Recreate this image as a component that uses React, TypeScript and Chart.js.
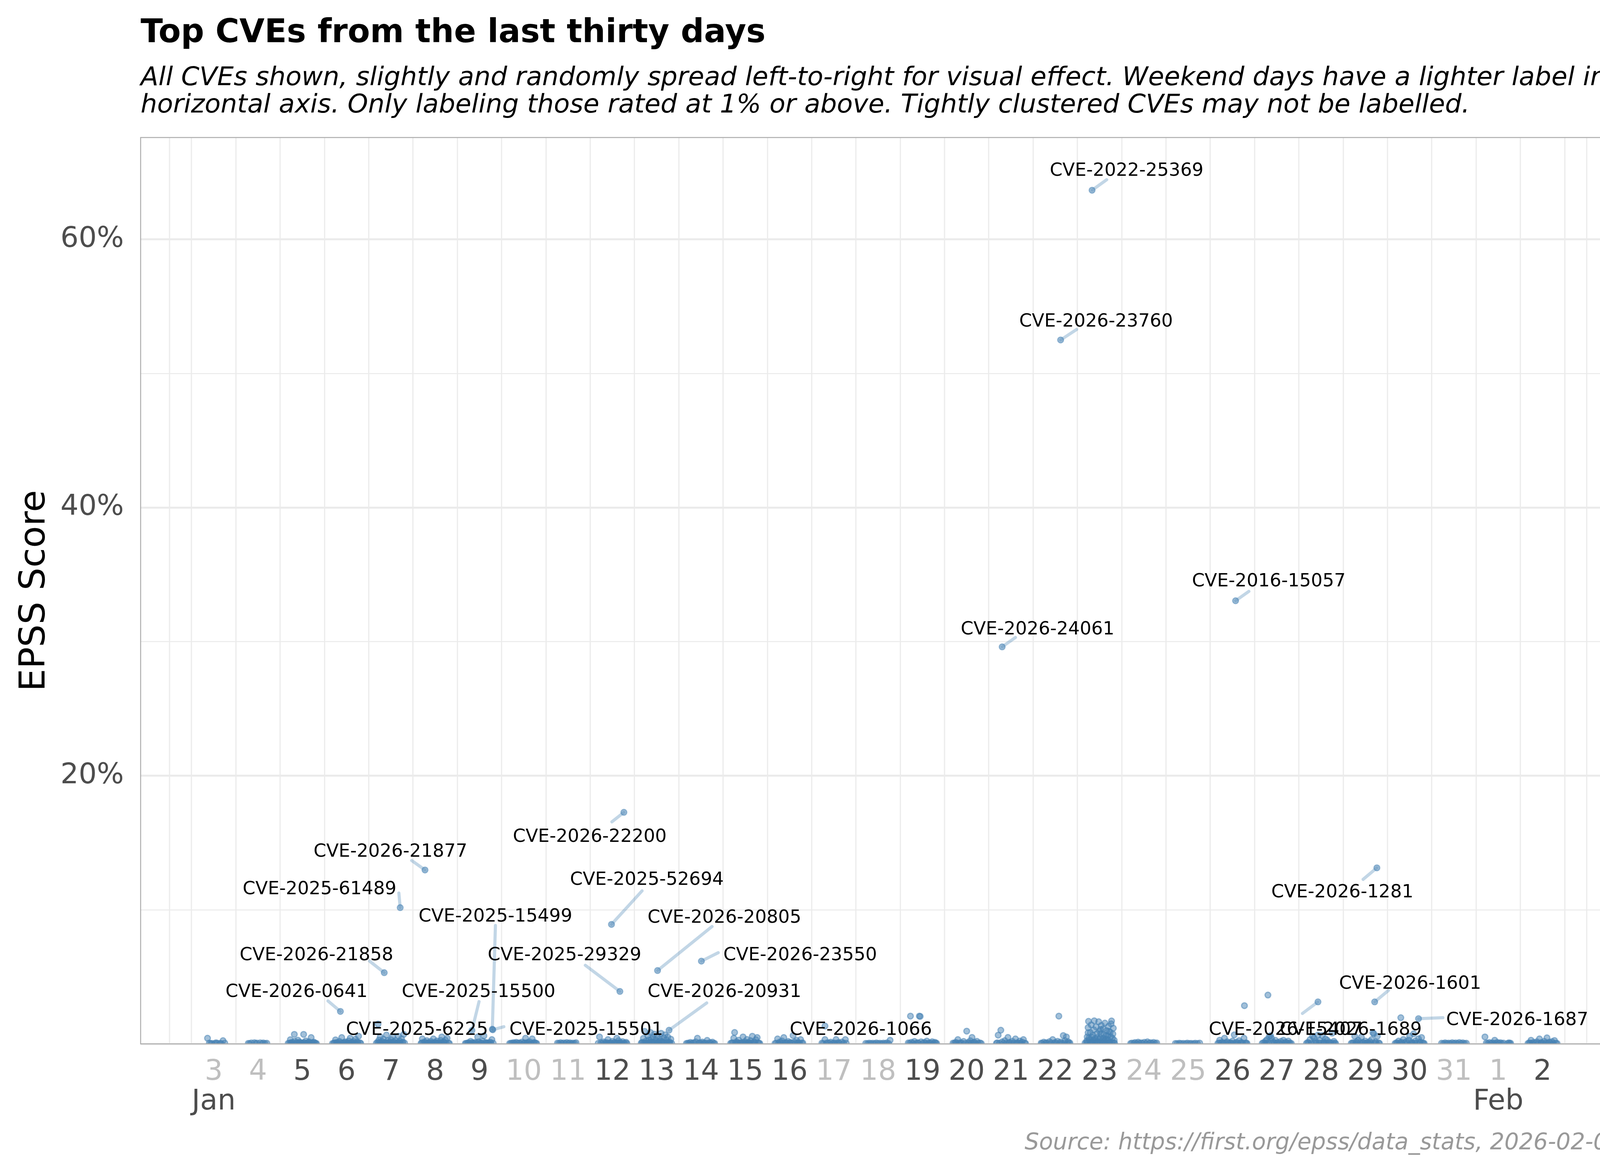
import { useEffect, useRef } from 'react';
import { Chart, registerables } from 'chart.js';

Chart.register(...registerables);

// ---- axis categories ----
const dayLabels = ['3','4','5','6','7','8','9','10','11','12','13','14','15','16','17','18','19','20','21','22','23','24','25','26','27','28','29','30','31','1','2'];
const weekendDays = [true,true,false,false,false,false,false,true,true,false,false,false,false,false,true,true,false,false,false,false,false,true,true,false,false,false,false,false,true,true,false];
const monthNames = ['Jan', 'Feb'];
const monthTickIndex = [0, 29];
const yTickValues = [0, 0.1, 0.2, 0.3, 0.4, 0.5, 0.6];
const yTickLabels = ['', '', '20%', '', '40%', '', '60%'];

// ---- per-day CVEs: [jitter offset in days, EPSS score] ----
const jan03 = [[-0.14,0.0042],[-0.1,0.0006],[-0.04,0.0004],[0.02,0.0003],[0.08,0.0005],[0.14,0.0004],[0.21,0.0024],[0.25,0.0006],[-0.07,0.0002],[0.05,0.0008],[0.17,0.0003]];
const jan04 = [[-0.22,0.0004],[-0.15,0.0007],[-0.08,0.0009],[-0.02,0.0006],[0.05,0.0008],[0.12,0.0007],[0.2,0.0005],[-0.19,0.0002],[-0.05,0.0003],[0.09,0.0002],[0.16,0.0003]];
const jan05 = [[-0.29,0.0006],[-0.27,0.0031],[-0.23,0.0012],[-0.18,0.0071],[-0.17,0.0019],[-0.12,0.0009],[-0.1,0.0028],[-0.06,0.0014],[-0.02,0.0004],[0.03,0.0071],[0.04,0.0011],[0.08,0.0022],[0.12,0.0007],[0.15,0.0016],[0.2,0.0047],[0.22,0.0009],[0.26,0.0013],[0.3,0.0004],[-0.24,0.0002],[0.0,0.0002],[0.18,0.0003],[-0.32,0.0004],[-0.26,0.0007],[-0.2,0.0005],[-0.14,0.0004],[-0.08,0.0006],[-0.04,0.0008],[0.01,0.0006],[0.06,0.0005],[0.1,0.0003],[0.14,0.0008],[0.24,0.0005],[0.28,0.0008],[0.32,0.0003]];
const jan06 = [[-0.29,0.0005],[-0.25,0.003],[-0.21,0.0012],[-0.16,0.0018],[-0.11,0.0047],[-0.07,0.0009],[-0.03,0.0015],[0.01,0.0004],[0.05,0.0022],[0.08,0.0042],[0.12,0.0011],[0.16,0.0019],[0.2,0.0035],[0.24,0.0014],[0.27,0.0057],[0.3,0.0008],[-0.19,0.0003],[0.14,0.0003],[-0.32,0.0003],[-0.27,0.0008],[-0.23,0.0005],[-0.13,0.0006],[-0.09,0.0004],[-0.05,0.0007],[-0.01,0.0009],[0.03,0.0005],[0.07,0.0007],[0.1,0.0004],[0.18,0.0006],[0.22,0.0004],[0.26,0.0007],[0.32,0.0004]];
const jan07 = [[-0.3,0.0012],[-0.27,0.0028],[-0.24,0.0052],[-0.2,0.0018],[-0.17,0.0035],[-0.13,0.0009],[-0.1,0.0066],[-0.07,0.0024],[-0.03,0.0013],[0.0,0.0031],[0.04,0.0052],[0.07,0.0016],[0.1,0.0026],[0.14,0.0008],[0.17,0.0057],[0.2,0.0021],[0.24,0.0038],[0.27,0.0014],[0.29,0.0071],[-0.22,0.0004],[0.12,0.0003],[-0.05,0.0004],[-0.33,0.0005],[-0.28,0.0007],[-0.25,0.0009],[-0.18,0.0006],[-0.15,0.0011],[-0.11,0.0005],[-0.08,0.0009],[-0.01,0.0006],[0.02,0.0009],[0.05,0.0005],[0.09,0.0008],[0.16,0.0006],[0.19,0.0009],[0.22,0.0005],[0.26,0.0008],[0.31,0.0006]];
const jan08 = [[-0.3,0.0008],[-0.29,0.0037],[-0.24,0.0015],[-0.19,0.0024],[-0.15,0.0007],[-0.1,0.0019],[-0.04,0.0037],[-0.01,0.0011],[0.04,0.0022],[0.08,0.0009],[0.12,0.0026],[0.15,0.0052],[0.19,0.0014],[0.23,0.0028],[0.27,0.0042],[0.3,0.0006],[-0.06,0.0003],[0.1,0.0003],[-0.32,0.0004],[-0.27,0.0006],[-0.22,0.0005],[-0.17,0.0009],[-0.12,0.0005],[-0.08,0.0007],[-0.03,0.0005],[0.02,0.0008],[0.06,0.0005],[0.14,0.0007],[0.17,0.0004],[0.21,0.0008],[0.25,0.0005],[0.32,0.0004]];
const jan09 = [[-0.3,0.0004],[-0.25,0.0009],[-0.2,0.0019],[-0.15,0.0006],[-0.1,0.0012],[-0.04,0.0052],[-0.02,0.0015],[0.03,0.0008],[0.07,0.0021],[0.1,0.006],[0.14,0.0011],[0.19,0.0007],[0.24,0.0013],[0.28,0.0032],[0.31,0.0005],[-0.32,0.0003],[-0.27,0.0005],[-0.22,0.0004],[-0.17,0.0008],[-0.12,0.0004],[-0.07,0.0006],[0.0,0.0004],[0.05,0.0005],[0.12,0.0004],[0.16,0.0006],[0.21,0.0004],[0.26,0.0006]];
const jan10 = [[-0.29,0.0005],[-0.23,0.0009],[-0.17,0.0012],[-0.1,0.0007],[-0.04,0.0014],[0.0,0.0006],[0.04,0.0042],[0.08,0.001],[0.13,0.0016],[0.19,0.0037],[0.24,0.0011],[0.29,0.0004],[-0.32,0.0003],[-0.26,0.0005],[-0.2,0.0004],[-0.14,0.0006],[-0.07,0.0004],[0.02,0.0007],[0.06,0.0004],[0.1,0.0005],[0.16,0.0004],[0.22,0.0006],[0.27,0.0005]];
const jan11 = [[-0.24,0.0006],[-0.17,0.0009],[-0.1,0.0007],[-0.03,0.001],[0.04,0.0008],[0.11,0.0006],[0.18,0.0009],[-0.21,0.0003],[-0.14,0.0004],[-0.06,0.0003],[0.01,0.0004],[0.08,0.0003],[0.15,0.0004]];
const jan12 = [[-0.29,0.0052],[-0.26,0.0008],[-0.2,0.0015],[-0.14,0.0011],[-0.1,0.0032],[-0.05,0.0007],[0.0,0.0019],[0.05,0.0012],[0.1,0.0042],[0.14,0.0024],[0.18,0.0009],[0.23,0.0017],[0.28,0.0006],[0.31,0.0012],[-0.32,0.0004],[-0.23,0.0005],[-0.17,0.0006],[-0.12,0.0004],[-0.08,0.0005],[-0.02,0.0006],[0.03,0.0004],[0.08,0.0005],[0.12,0.0007],[0.16,0.0004],[0.21,0.0006],[0.26,0.0004],[0.33,0.0003]];
const jan13 = [[-0.33,0.0012],[-0.3,0.0041],[-0.27,0.0093],[-0.24,0.0022],[-0.2,0.0061],[-0.17,0.0031],[-0.14,0.0085],[-0.11,0.0015],[-0.08,0.0048],[-0.05,0.0072],[-0.02,0.0026],[0.01,0.0055],[0.04,0.0009],[0.07,0.0038],[0.1,0.0079],[0.13,0.0019],[0.16,0.0045],[0.19,0.0067],[0.22,0.0028],[0.25,0.0052],[0.29,0.0014],[0.32,0.0035],[-0.22,0.0004],[0.0,0.0003],[0.2,0.0005],[-0.12,0.0033],[0.08,0.0024],[-0.35,0.0005],[-0.31,0.0008],[-0.28,0.0006],[-0.25,0.0009],[-0.18,0.0007],[-0.15,0.0011],[-0.09,0.0008],[-0.06,0.0012],[-0.03,0.0006],[0.02,0.0009],[0.05,0.0014],[0.11,0.0007],[0.14,0.0011],[0.17,0.0008],[0.23,0.0009],[0.27,0.0006],[0.3,0.0008],[0.34,0.0004]];
const jan14 = [[-0.3,0.0005],[-0.24,0.0011],[-0.18,0.0008],[-0.12,0.0015],[-0.08,0.0042],[-0.03,0.0009],[0.03,0.0014],[0.08,0.0007],[0.14,0.0026],[0.2,0.001],[0.26,0.0013],[0.31,0.0004],[-0.33,0.0003],[-0.27,0.0004],[-0.21,0.0003],[-0.15,0.0005],[-0.05,0.0004],[0.0,0.0005],[0.05,0.0003],[0.11,0.0005],[0.17,0.0004],[0.23,0.0005],[0.29,0.0003]];
const jan15 = [[-0.3,0.0009],[-0.26,0.0042],[-0.24,0.0085],[-0.2,0.0016],[-0.15,0.0028],[-0.1,0.0008],[-0.05,0.0052],[-0.01,0.0017],[0.04,0.0033],[0.08,0.0011],[0.12,0.0024],[0.16,0.0057],[0.2,0.0013],[0.24,0.0031],[0.27,0.0047],[0.31,0.0006],[0.0,0.0003],[-0.18,0.0003],[-0.33,0.0004],[-0.28,0.0006],[-0.22,0.0005],[-0.17,0.0008],[-0.12,0.0005],[-0.07,0.0007],[-0.03,0.0005],[0.02,0.0008],[0.06,0.0004],[0.1,0.0006],[0.14,0.0005],[0.18,0.0008],[0.22,0.0005],[0.29,0.0007],[0.33,0.0003]];
const jan16 = [[-0.3,0.0006],[-0.27,0.0037],[-0.22,0.0014],[-0.17,0.0022],[-0.13,0.0047],[-0.08,0.0009],[-0.03,0.0018],[0.02,0.0011],[0.08,0.0062],[0.11,0.0015],[0.16,0.0026],[0.2,0.0009],[0.25,0.0032],[0.3,0.0007],[-0.33,0.0003],[-0.25,0.0005],[-0.2,0.0004],[-0.15,0.0006],[-0.1,0.0004],[-0.05,0.0007],[0.0,0.0005],[0.05,0.0006],[0.13,0.0004],[0.18,0.0006],[0.23,0.0004],[0.28,0.0005]];
const jan17 = [[-0.27,0.0006],[-0.2,0.0032],[-0.14,0.0009],[-0.07,0.0013],[0.0,0.0007],[0.05,0.0032],[0.11,0.001],[0.18,0.0014],[0.26,0.0032],[0.28,0.0005],[-0.24,0.0003],[-0.17,0.0004],[-0.1,0.0005],[-0.04,0.0003],[0.03,0.0004],[0.08,0.0005],[0.14,0.0003],[0.22,0.0005]];
const jan18 = [[-0.28,0.0004],[-0.2,0.0006],[-0.12,0.0005],[-0.04,0.0007],[0.04,0.0005],[0.12,0.0006],[0.2,0.0008],[0.27,0.0027],[-0.24,0.0002],[-0.16,0.0003],[-0.08,0.0002],[0.0,0.0003],[0.08,0.0002],[0.16,0.0003],[0.24,0.0002]];
const jan19 = [[-0.32,0.0007],[-0.27,0.0207],[-0.25,0.0012],[-0.18,0.0018],[-0.11,0.0009],[-0.07,0.0207],[-0.05,0.0205],[-0.03,0.0015],[0.04,0.0011],[0.1,0.0021],[0.16,0.0008],[0.22,0.0016],[0.28,0.0012],[0.32,0.0005],[-0.29,0.0004],[-0.22,0.0005],[-0.15,0.0004],[-0.09,0.0006],[0.0,0.0004],[0.07,0.0005],[0.13,0.0004],[0.19,0.0006],[0.25,0.0004],[0.3,0.0005]];
const jan20 = [[-0.31,0.0006],[-0.25,0.0012],[-0.2,0.0032],[-0.14,0.0009],[-0.07,0.0018],[0.0,0.0095],[0.03,0.0011],[0.08,0.0023],[0.12,0.0048],[0.17,0.0013],[0.23,0.0019],[0.3,0.0007],[-0.28,0.0004],[-0.23,0.0005],[-0.17,0.0004],[-0.11,0.0006],[-0.04,0.0004],[0.05,0.0005],[0.1,0.0004],[0.15,0.0006],[0.2,0.0004],[0.26,0.0005],[0.33,0.0003]];
const jan21 = [[-0.31,0.0008],[-0.29,0.0065],[-0.23,0.0102],[-0.2,0.0015],[-0.14,0.0024],[-0.07,0.0048],[-0.03,0.0012],[0.03,0.0019],[0.1,0.0037],[0.14,0.0009],[0.2,0.0021],[0.25,0.0014],[0.28,0.0032],[0.31,0.0006],[-0.33,0.0004],[-0.26,0.0005],[-0.17,0.0006],[-0.11,0.0004],[-0.05,0.0006],[0.0,0.0004],[0.06,0.0006],[0.12,0.0004],[0.17,0.0005],[0.22,0.0004],[0.33,0.0003]];
const jan22 = [[-0.32,0.0006],[-0.26,0.0013],[-0.2,0.0009],[-0.13,0.0017],[-0.06,0.0032],[0.0,0.0011],[0.05,0.0019],[0.08,0.0207],[0.12,0.0014],[0.18,0.0062],[0.22,0.0024],[0.25,0.0052],[0.29,0.0016],[0.33,0.0007],[-0.3,0.0004],[-0.23,0.0005],[-0.17,0.0004],[-0.1,0.0006],[-0.03,0.0005],[0.03,0.0004],[0.1,0.0005],[0.15,0.0004],[0.2,0.0006],[0.27,0.0004],[0.31,0.0005]];
const jan23 = [[-0.3,0.0009],[-0.28,0.0052],[-0.26,0.0121],[-0.25,0.0168],[-0.23,0.0031],[-0.21,0.0085],[-0.19,0.0142],[-0.17,0.0018],[-0.15,0.0064],[-0.13,0.0105],[-0.12,0.0172],[-0.1,0.0039],[-0.08,0.0127],[-0.06,0.0076],[-0.04,0.0015],[-0.02,0.0165],[0.0,0.0094],[0.02,0.0046],[0.04,0.0138],[0.06,0.0024],[0.08,0.0112],[0.1,0.0068],[0.12,0.0155],[0.14,0.0035],[0.16,0.0099],[0.18,0.0058],[0.2,0.0131],[0.22,0.0012],[0.24,0.0088],[0.26,0.0149],[0.27,0.0171],[0.29,0.0043],[0.31,0.0117],[0.33,0.0027],[-0.22,0.0005],[0.05,0.0004],[0.2,0.0006],[-0.09,0.0026],[0.11,0.0019],[-0.33,0.0006],[-0.29,0.0022],[-0.27,0.0007],[-0.24,0.0044],[-0.2,0.0009],[-0.18,0.0051],[-0.16,0.0008],[-0.14,0.0029],[-0.11,0.0009],[-0.07,0.0011],[-0.05,0.0047],[-0.03,0.0008],[-0.01,0.0034],[0.01,0.0009],[0.03,0.0075],[0.07,0.0007],[0.09,0.0041],[0.13,0.0008],[0.15,0.0062],[0.17,0.0009],[0.19,0.0031],[0.23,0.0008],[0.25,0.0053],[0.28,0.0009],[0.3,0.0074],[0.32,0.0007],[0.34,0.0005],[-0.26,0.0083],[0.02,0.0108],[0.21,0.0093]];
const jan24 = [[-0.27,0.0006],[-0.2,0.001],[-0.13,0.0013],[-0.06,0.0008],[0.01,0.0012],[0.08,0.0015],[0.15,0.0009],[0.22,0.0011],[0.29,0.0007],[-0.3,0.0003],[-0.23,0.0004],[-0.16,0.0003],[-0.1,0.0005],[-0.03,0.0004],[0.05,0.0003],[0.12,0.0005],[0.19,0.0004],[0.26,0.0003]];
const jan25 = [[-0.29,0.0003],[-0.2,0.0005],[-0.11,0.0004],[-0.02,0.0006],[0.07,0.0004],[0.16,0.0005],[0.26,0.0006],[-0.25,0.0002],[-0.16,0.0003],[-0.06,0.0002],[0.03,0.0003],[0.12,0.0002],[0.21,0.0003]];
const jan26 = [[-0.3,0.0007],[-0.29,0.0027],[-0.23,0.0012],[-0.18,0.0042],[-0.12,0.0016],[-0.06,0.0009],[0.0,0.0021],[0.04,0.0067],[0.09,0.0013],[0.15,0.0024],[0.2,0.0011],[0.26,0.0042],[0.27,0.0285],[0.31,0.0008],[-0.33,0.0004],[-0.26,0.0005],[-0.2,0.0004],[-0.15,0.0007],[-0.09,0.0005],[-0.03,0.0006],[0.02,0.0004],[0.07,0.0006],[0.12,0.0004],[0.18,0.0005],[0.23,0.0006],[0.29,0.0004],[0.33,0.0003]];
const jan27 = [[-0.3,0.0009],[-0.25,0.0022],[-0.22,0.0032],[-0.2,0.0364],[-0.17,0.0055],[-0.14,0.0061],[-0.12,0.0042],[-0.08,0.0015],[-0.03,0.0026],[0.03,0.0011],[0.09,0.0019],[0.15,0.0027],[0.2,0.0013],[0.26,0.0021],[0.3,0.0007],[-0.33,0.0004],[-0.27,0.0006],[-0.23,0.0005],[-0.18,0.0008],[-0.1,0.0006],[-0.05,0.0005],[0.0,0.0007],[0.06,0.0004],[0.12,0.0006],[0.18,0.0005],[0.23,0.0007],[0.28,0.0004],[0.33,0.0003]];
const jan28 = [[-0.3,0.0011],[-0.25,0.0031],[-0.19,0.0057],[-0.16,0.0044],[-0.12,0.0018],[-0.07,0.0066],[-0.03,0.0025],[0.03,0.0062],[0.06,0.0014],[0.1,0.0037],[0.14,0.0027],[0.19,0.0012],[0.25,0.008],[0.29,0.0019],[0.31,0.0006],[-0.33,0.0004],[-0.28,0.0006],[-0.22,0.0005],[-0.14,0.0008],[-0.1,0.0005],[-0.05,0.0007],[0.0,0.0005],[0.05,0.0008],[0.08,0.0005],[0.12,0.0006],[0.17,0.0004],[0.22,0.0007],[0.27,0.0005],[0.33,0.0003]];
const jan29 = [[-0.29,0.0009],[-0.24,0.0057],[-0.2,0.0016],[-0.16,0.0027],[-0.09,0.005],[-0.05,0.0012],[0.0,0.0021],[0.05,0.0009],[0.1,0.0018],[0.14,0.0032],[0.17,0.0082],[0.19,0.0076],[0.23,0.0015],[0.27,0.0057],[0.3,0.0008],[-0.32,0.0004],[-0.27,0.0006],[-0.22,0.0004],[-0.18,0.0007],[-0.12,0.0005],[-0.07,0.0006],[-0.02,0.0004],[0.03,0.0007],[0.08,0.0004],[0.12,0.0006],[0.21,0.0005],[0.25,0.0006],[0.32,0.0003]];
const jan30 = [[-0.3,0.0008],[-0.25,0.0021],[-0.19,0.0013],[-0.14,0.0033],[-0.08,0.0017],[-0.02,0.0028],[0.0,0.0057],[0.05,0.0012],[0.09,0.0075],[0.13,0.0022],[0.2,0.0038],[0.24,0.0014],[0.27,0.0047],[0.31,0.0006],[-0.33,0.0003],[-0.28,0.0005],[-0.22,0.0006],[-0.17,0.0004],[-0.11,0.0007],[-0.05,0.0005],[0.03,0.0006],[0.07,0.0004],[0.11,0.0006],[0.16,0.0005],[0.22,0.0006],[0.29,0.0004],[0.33,0.0003]];
const jan31 = [[-0.28,0.0005],[-0.2,0.0008],[-0.12,0.0006],[-0.04,0.0009],[0.04,0.0007],[0.12,0.001],[0.2,0.0008],[0.28,0.0005],[-0.24,0.0003],[-0.16,0.0004],[-0.08,0.0003],[0.0,0.0004],[0.08,0.0003],[0.16,0.0004],[0.24,0.0003]];
const feb01 = [[-0.3,0.0052],[-0.27,0.0007],[-0.2,0.001],[-0.13,0.0008],[-0.08,0.0027],[-0.02,0.0011],[0.05,0.0009],[0.12,0.0006],[0.24,0.0008],[0.28,0.0005],[-0.24,0.0003],[-0.17,0.0004],[-0.1,0.0003],[-0.05,0.0005],[0.02,0.0004],[0.08,0.0003],[0.21,0.0004],[0.26,0.0003]];
const feb02 = [[-0.3,0.0008],[-0.26,0.0027],[-0.2,0.0012],[-0.13,0.0016],[-0.07,0.0037],[-0.02,0.0011],[0.04,0.0019],[0.1,0.0045],[0.15,0.0013],[0.21,0.0017],[0.27,0.0025],[0.3,0.0006],[-0.33,0.0003],[-0.28,0.0005],[-0.23,0.0004],[-0.16,0.0006],[-0.1,0.0005],[-0.04,0.0006],[0.01,0.0004],[0.07,0.0006],[0.12,0.0004],[0.18,0.0005],[0.24,0.0004],[0.33,0.0003]];
const dayClusters = [jan03,jan04,jan05,jan06,jan07,jan08,jan09,jan10,jan11,jan12,jan13,jan14,jan15,jan16,jan17,jan18,jan19,jan20,jan21,jan22,jan23,jan24,jan25,jan26,jan27,jan28,jan29,jan30,jan31,feb01,feb02];

// ---- labelled CVEs ----
const cveIds = ['CVE-2022-25369','CVE-2026-23760','CVE-2016-15057','CVE-2026-24061','CVE-2026-22200','CVE-2026-21877','CVE-2025-61489','CVE-2025-52694','CVE-2025-15499','CVE-2026-20805','CVE-2026-23550','CVE-2025-29329','CVE-2026-21858','CVE-2026-0641','CVE-2025-15500','CVE-2025-6225','CVE-2025-15501','CVE-2026-20931','CVE-2026-1066','CVE-2026-1281','CVE-2026-1601','CVE-2026-1687','CVE-2026-15407','CVE-2026-1689'];
const cveDay = [19.83,19.12,23.07,17.80,9.26,4.77,4.21,8.98,6.29,10.02,11.01,9.17,3.85,2.86,5.83,3.71,6.30,10.28,13.80,26.26,26.21,27.20,24.93,26.80];
const cveScore = [0.6367,0.525,0.3305,0.2961,0.1727,0.1297,0.1016,0.0891,0.0109,0.0547,0.0617,0.0391,0.0531,0.0242,0.0100,0.0148,0.0105,0.0102,0.0133,0.1313,0.0313,0.0188,0.0313,0.0195];
// label placement (data units) and leader-line end (data units, null = no line)
const labelDay = [20.61,19.92,23.82,18.60,8.49,3.99,2.39,9.78,6.36,11.53,13.24,7.92,2.32,1.87,5.98,4.59,8.41,11.53,14.61,25.48,27.01,29.43,24.20,25.67];
const labelScore = [0.6523,0.5398,0.3461,0.3102,0.1555,0.1445,0.1164,0.1234,0.0961,0.0953,0.0672,0.0672,0.0672,0.0398,0.0398,0.0117,0.0117,0.0398,0.0117,0.1141,0.0461,0.0188,0.0117,0.0117];
const leaderDay = [20.16,19.48,23.37,18.10,8.99,4.47,4.18,9.67,6.36,11.25,11.39,8.39,3.52,2.58,5.99,null,6.55,11.13,null,25.95,26.52,27.75,24.58,null];
const leaderScore = [0.6445,0.5328,0.3375,0.3031,0.1656,0.1367,0.1125,0.1141,0.0883,0.0875,0.068,0.0586,0.0617,0.032,0.0315,null,0.0128,0.0305,null,0.1227,0.0398,0.0195,0.0227,null];

const titleText = 'Top CVEs from the last thirty days';
const subtitleLines = [
  'All CVEs shown, slightly and randomly spread left-to-right for visual effect. Weekend days have a lighter label in the',
  'horizontal axis. Only labeling those rated at 1% or above. Tightly clustered CVEs may not be labelled.',
];
const captionText = 'Source: https://first.org/epss/data_stats, 2026-02-02';
const yTitle = 'EPSS Score';

const FONT = '"DejaVu Sans"';
const POINT_FILL = 'rgba(70,130,180,0.5)';
const POINT_EDGE = 'rgba(70,130,180,0.5)';
const LABEL_SIZE = 46.5;

const decorPlugin = {
  id: 'decor',
  beforeDatasetsDraw(chart: any) {
    const { ctx, chartArea, scales } = chart;
    const { top, bottom } = chartArea;
    const xs = scales.x, ys = scales.y;
    ctx.save();
    ctx.strokeStyle = '#ebebeb';
    ctx.lineWidth = 3;
    const gridDays = [-1, ...dayLabels.map((_, i) => i - 0.5), dayLabels.length - 0.5, dayLabels.length];
    for (const d of gridDays) {
      const px = Math.round(xs.getPixelForValue(d));
      ctx.beginPath();
      ctx.moveTo(px, top);
      ctx.lineTo(px, bottom);
      ctx.stroke();
    }
    ctx.strokeStyle = 'rgba(70,130,180,0.33)';
    ctx.lineWidth = 8;
    ctx.lineCap = 'round';
    cveIds.forEach((_, k) => {
      const ex = leaderDay[k], ey = leaderScore[k];
      if (ex == null || ey == null) return;
      ctx.beginPath();
      ctx.moveTo(xs.getPixelForValue(cveDay[k]), ys.getPixelForValue(cveScore[k]));
      ctx.lineTo(xs.getPixelForValue(ex), ys.getPixelForValue(ey));
      ctx.stroke();
    });
    ctx.restore();
  },
  afterDatasetsDraw(chart: any) {
    const { ctx, scales } = chart;
    const xs = scales.x, ys = scales.y;
    ctx.save();
    ctx.fillStyle = '#000000';
    ctx.font = `${LABEL_SIZE}px ${FONT}`;
    ctx.textAlign = 'center';
    ctx.textBaseline = 'alphabetic';
    cveIds.forEach((id, k) => {
      const px = xs.getPixelForValue(labelDay[k]);
      const py = ys.getPixelForValue(labelScore[k]);
      ctx.fillText(id, px, py + 0.3645 * LABEL_SIZE);
    });
    ctx.restore();
  },
  afterDraw(chart: any) {
    const { ctx, chartArea, scales } = chart;
    const { left, right, top, bottom } = chartArea;
    ctx.save();
    ctx.strokeStyle = '#adadad';
    ctx.lineWidth = 2.5;
    ctx.strokeRect(left, top, right - left, bottom - top);
    ctx.fillStyle = '#000000';
    ctx.textAlign = 'left';
    ctx.textBaseline = 'alphabetic';
    ctx.font = `bold 83.3px ${FONT}`;
    ctx.fillText(titleText, 360, 108);
    ctx.font = `italic 66.7px ${FONT}`;
    ctx.fillText(subtitleLines[0], 360, 218);
    ctx.fillText(subtitleLines[1], 360, 288);
    ctx.fillStyle = '#999999';
    ctx.textAlign = 'right';
    ctx.font = `italic 58.3px ${FONT}`;
    ctx.fillText(captionText, right, 2942);
    ctx.fillStyle = '#4d4d4d';
    ctx.textAlign = 'center';
    ctx.font = `73px ${FONT}`;
    monthNames.forEach((m, k) => {
      ctx.fillText(m, scales.x.getPixelForValue(monthTickIndex[k]), 2840);
    });
    ctx.fillStyle = '#000000';
    ctx.font = `91.7px ${FONT}`;
    ctx.translate(114, (top + bottom) / 2);
    ctx.rotate(-Math.PI / 2);
    ctx.textAlign = 'center';
    ctx.fillText(yTitle, 0, 0);
    ctx.restore();
  },
};

export default function App() {
  const ref = useRef<HTMLCanvasElement | null>(null);
  useEffect(() => {
    if (!ref.current) return;
    const clusterPoints = dayClusters.flatMap((pts, i) => pts.map(([o, v]) => ({ x: i + o, y: v })));
    const labelledPoints = cveIds.map((_, k) => ({ x: cveDay[k], y: cveScore[k] }));
    const pointStyle = { pointRadius: 7.5, pointBorderWidth: 3, backgroundColor: POINT_FILL, borderColor: POINT_EDGE, clip: 0 };
    const chart = new Chart(ref.current, {
      type: 'scatter',
      data: {
        datasets: [
          { data: clusterPoints, ...pointStyle } as any,
          { data: labelledPoints, ...pointStyle } as any,
        ],
      },
      options: {
        animation: false,
        responsive: false,
        devicePixelRatio: 1,
        events: [],
        layout: { padding: { top: 352, right: 47, left: 0, bottom: 0 } },
        plugins: { legend: { display: false }, tooltip: { enabled: false }, title: { display: false } },
        scales: {
          x: {
            type: 'linear',
            min: -1.65,
            max: 31.8,
            afterBuildTicks: (scale: any) => { scale.ticks = dayLabels.map((_, i) => ({ value: i })); },
            afterFit: (scale: any) => { scale.height = 328; },
            grid: { display: false, drawTicks: false },
            border: { display: false },
            ticks: {
              autoSkip: false,
              maxRotation: 0,
              minRotation: 0,
              padding: 29,
              font: { family: 'DejaVu Sans', size: 73 },
              color: (c: any) => (weekendDays[c.index] ? '#bfbfbf' : '#4d4d4d'),
              callback: (_v: any, i: number) => dayLabels[i],
            },
          },
          y: {
            type: 'linear',
            min: 0,
            max: 0.676,
            afterBuildTicks: (scale: any) => { scale.ticks = yTickValues.map((v) => ({ value: v })); },
            afterFit: (scale: any) => { scale.width = 360; },
            grid: {
              color: '#ebebeb',
              lineWidth: (c: any) => (c.index % 2 === 0 ? 5 : 2.5),
              drawTicks: false,
            },
            border: { display: false },
            ticks: {
              padding: 43,
              font: { family: 'DejaVu Sans', size: 73 },
              color: '#4d4d4d',
              callback: (_v: any, i: number) => yTickLabels[i],
            },
          },
        },
      },
      plugins: [decorPlugin],
    } as any);
    return () => chart.destroy();
  }, []);
  return (
    <canvas
      ref={ref}
      width={4200}
      height={3000}
      style={{ position: 'absolute', left: 0, top: 0, width: 4200, height: 3000, background: '#ffffff' }}
    />
  );
}
